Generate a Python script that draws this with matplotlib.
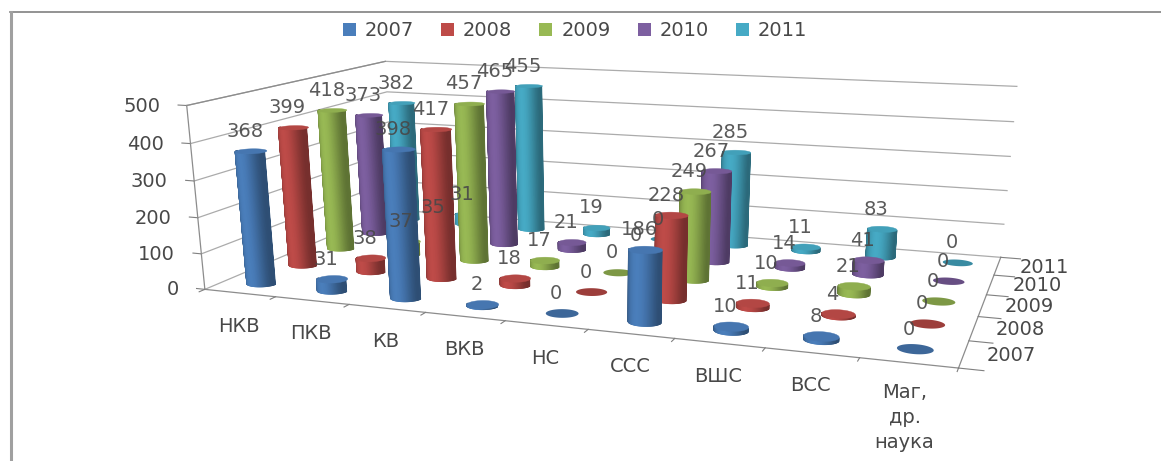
import matplotlib
matplotlib.use('Agg')
import matplotlib.pyplot as plt
import numpy as np
from matplotlib.colors import to_rgb
from matplotlib.collections import PolyCollection
from matplotlib.patches import Patch

categories = ['НКВ', 'ПКВ', 'КВ', 'ВКВ', 'НС', 'ССС', 'ВШС', 'ВСС', 'Маг,\nдр.\nнаука']
years = ['2007', '2008', '2009', '2010', '2011']
v2007 = [368, 31, 398, 2, 0, 186, 10, 8, 0]
v2008 = [399, 38, 417, 18, 0, 228, 11, 4, 0]
v2009 = [418, 37, 457, 17, 0, 249, 10, 21, 0]
v2010 = [373, 35, 465, 21, 0, 267, 14, 41, 0]
v2011 = [382, 31, 455, 19, 0, 285, 11, 83, 0]
series = [v2007, v2008, v2009, v2010, v2011]
colors = ['#4a7ebb', '#be4b48', '#98b954', '#7d5fa0', '#46aac5']
zticks = [0, 100, 200, 300, 400, 500]
text_col = '#484848'

# the picture is an oblique 3d view, fit a projection from the box corners
world = np.array([[0, 0, 0], [0, 0, 500], [9, 0, 0], [9, 5, 0], [9, 5, 500], [0, 5, 500]], float)
pix = np.array([[205, 290], [187, 104], [958, 369], [1001, 256], [1017, 87], [385, 62]], float)
rows = []
for (X, Y, Z), (u, v) in zip(world, pix):
    rows.append([X, Y, Z, 1, 0, 0, 0, 0, -u * X, -u * Y, -u * Z, -u])
    rows.append([0, 0, 0, 0, X, Y, Z, 1, -v * X, -v * Y, -v * Z, -v])
P = np.linalg.svd(np.array(rows))[2][-1].reshape(3, 4)


def proj(x, y, z):
    x, y, z = np.broadcast_arrays(np.asarray(x, float), np.asarray(y, float), np.asarray(z, float))
    h = P @ np.stack([x.ravel(), y.ravel(), z.ravel(), np.ones(x.size)])
    return np.column_stack([h[0] / h[2], h[1] / h[2]])


def mix(c, t, to):
    c = np.array(to_rgb(c))
    return tuple(c + (np.array(to) - c) * t)


fig = plt.figure(figsize=(11.61, 4.61), dpi=100)
ax = fig.add_axes([0, 0, 1, 1])
ax.set_xlim(0, 1161)
ax.set_ylim(461, 0)
ax.axis('off')

# outer frame, only top and left are in the crop
ax.plot([10, 1161], [12, 12], color='#808080', lw=1.2, zorder=1)
ax.plot([11, 11], [12, 461], color='#a0a0a0', lw=2.2, zorder=1)

# walls and gridlines
for z in zticks:
    line = proj([0, 0, 9], [0, 5, 5], [z, z, z])
    ax.plot(line[:, 0], line[:, 1], color='#ababab', lw=0.9, zorder=2)
    tick = proj([0, -0.12], [0, 0], [z, z])
    ax.plot(tick[:, 0], tick[:, 1], color='#808080', lw=0.8, zorder=2)
    ax.text(tick[1, 0] - 18, tick[1, 1] + 1, str(z), ha='right', va='center', fontsize=14, color=text_col, zorder=200)
for edge in ([[0, 0], [0, 0], [0, 500]], [[0, 0], [0, 5], [500, 500]], [[0, 9], [0, 0], [0, 0]], [[9, 9], [0, 5], [0, 0]]):
    line = proj(*edge)
    ax.plot(line[:, 0], line[:, 1], color='#8c8c8c', lw=0.9, zorder=2)

# x axis ticks and labels
for i in range(10):
    tick = proj([i, i], [0, -0.12], [0, 0])
    ax.plot(tick[:, 0], tick[:, 1], color='#808080', lw=0.8, zorder=2)
for i, name in enumerate(categories):
    p = proj(i + 0.5, 0, 0)[0]
    if '\n' in name:
        ax.text(p[0] - 4, p[1] + 20, name, ha='center', va='top', fontsize=14, color=text_col, linespacing=1.4)
    else:
        ax.text(p[0] - 1, p[1] + 33, name, ha='center', va='center', fontsize=14, color=text_col)

# depth axis ticks and labels
for j in range(6):
    tick = proj([9, 9.25], [j, j], [0, 0])
    ax.plot(tick[:, 0], tick[:, 1], color='#808080', lw=0.8, zorder=2)
for j, year in enumerate(years):
    p = proj(9, j + 0.5, 0)[0]
    ax.text(p[0] + 47, p[1] + 1, year, ha='center', va='center', fontsize=14, color=text_col, zorder=200)

# cylinders, back row first
theta = np.linspace(np.pi, 2 * np.pi, 61)
ring = np.linspace(0, 2 * np.pi, 73)
rx, ry = 0.19, 0.18
order = 10
for j in range(4, -1, -1):
    for i in range(9):
        val = series[j][i]
        cx = i + 0.5 + rx * np.cos(theta)
        cy = j + 0.5 + ry * np.sin(theta)
        low = proj(cx, cy, 0)
        high = proj(cx, cy, val)
        top = proj(i + 0.5 + rx * np.cos(ring), j + 0.5 + ry * np.sin(ring), val)
        col = colors[j]
        if val > 0:
            quads, fills = [], []
            for k in range(len(theta) - 1):
                quads.append([low[k], low[k + 1], high[k + 1], high[k]])
                # brighter in the middle of the visible side, darker at the edges
                s = np.cos(theta[k] + 0.2)
                fills.append(mix(col, 0.38 * s ** 2, (0, 0, 0)))
            ax.add_collection(PolyCollection(quads, facecolors=fills, edgecolors=fills, linewidths=0.7, zorder=order))
            ax.fill(top[:, 0], top[:, 1], color=mix(col, 0.06, (0, 0, 0)), lw=0.3, zorder=order + 0.5)
        else:
            ax.fill(top[:, 0], top[:, 1], color=mix(col, 0.18, (0, 0, 0)), lw=0, zorder=order + 0.5)
        order += 1
        c = proj(i + 0.5, j + 0.5, val)[0]
        ax.text(c[0] - 6, c[1] - 20, str(val), ha='center', va='center', fontsize=14, color=text_col, alpha=0.9, zorder=300)

handles = [Patch(facecolor=c, edgecolor='none') for c in colors]
ax.legend(handles, years, ncol=5, loc='center', bbox_to_anchor=(575 / 1161, 1 - 31 / 461), frameon=False,
          fontsize=14, labelcolor=text_col, handlelength=0.67, handleheight=0.62, handletextpad=0.46, columnspacing=1.39,
          borderpad=0, borderaxespad=0)

fig.savefig('out.png', dpi=100)
